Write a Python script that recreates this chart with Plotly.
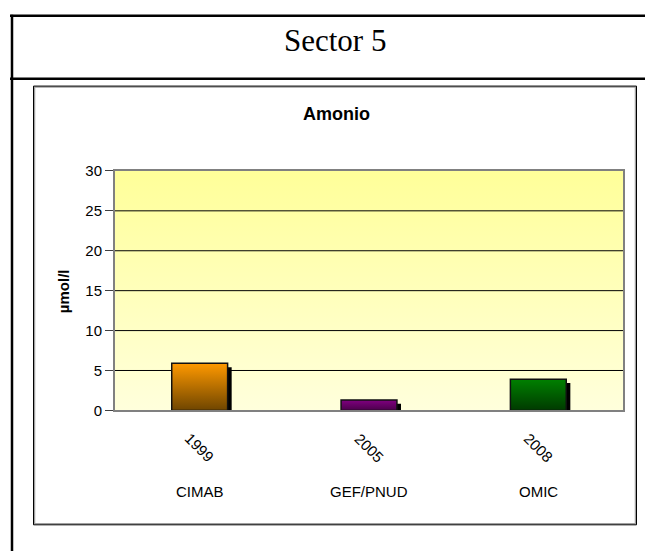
import plotly.graph_objects as go

# ---- data ----
years = ["1999", "2005", "2008"]
sources = ["CIMAB", "GEF/PNUD", "OMIC"]
values = [5.9, 1.3, 3.9]
y_ticks = [0, 5, 10, 15, 20, 25, 30]

W, H = 645, 559
def px(x): return x / W
def py(y): return 1 - y / H

bar_top = ["#FF9900", "#800080", "#008000"]
bar_bot = ["#6E4500", "#4A004A", "#003A00"]

BAR_W = 0.33
SH_DX = 0.024   # shadow offset (data units)
SH_DY = 0.48

FONT = "Liberation Sans, Arial"

fig = go.Figure()

# plot-area gradient background
fig.add_trace(go.Scatter(
    x=[-0.5, 2.5, 2.5, -0.5, -0.5], y=[0, 0, 30, 30, 0],
    mode="lines", line=dict(width=0), fill="toself",
    fillgradient=dict(type="vertical", colorscale=[[0, "#FFFFDC"], [1, "#FFFF99"]]),
    hoverinfo="skip", showlegend=False))

# gridlines
for t in y_ticks[1:-1]:
    fig.add_trace(go.Scatter(x=[-0.5, 2.5], y=[t, t], mode="lines",
                             line=dict(color="black", width=1),
                             hoverinfo="skip", showlegend=False))

# bars with shadows
for i, v in enumerate(values):
    x0, x1 = i - BAR_W / 2, i + BAR_W / 2
    fig.add_trace(go.Scatter(
        x=[x0 + SH_DX, x1 + SH_DX, x1 + SH_DX, x0 + SH_DX, x0 + SH_DX],
        y=[-SH_DY, -SH_DY, v - SH_DY, v - SH_DY, -SH_DY],
        mode="lines", line=dict(width=0), fill="toself", fillcolor="black",
        hoverinfo="skip", showlegend=False))
    fig.add_trace(go.Scatter(
        x=[x0, x1, x1, x0, x0], y=[0, 0, v, v, 0],
        mode="lines", line=dict(color="#111111", width=1.5), fill="toself",
        fillgradient=dict(type="vertical", colorscale=[[0, bar_bot[i]], [1, bar_top[i]]]),
        hoverinfo="skip", showlegend=False, name=sources[i]))

fig.update_xaxes(range=[-0.5, 2.5], domain=[px(115), px(623)], showgrid=False,
                 zeroline=False, showticklabels=False, showline=True, mirror=True,
                 linecolor="#808080", linewidth=2, fixedrange=True)
fig.update_yaxes(range=[0, 30], domain=[py(414), py(167)], tickvals=y_ticks,
                 showgrid=False, zeroline=False, showline=True, mirror=True,
                 linecolor="#808080", linewidth=2, ticks="outside", ticklen=8,
                 tickcolor="#404040", tickwidth=1,
                 tickfont=dict(family=FONT, size=15, color="black"),
                 fixedrange=True)

def ann(text, x, y, size, family=FONT, xref="paper", angle=0):
    return dict(text=text, x=x, y=y, xref=xref, yref="paper", xanchor="center",
                yanchor="middle", textangle=angle, showarrow=False,
                font=dict(family=family, size=size, color="black"))

annotations = [
    ann("Sector 5", px(335), py(33), 31, family="Liberation Serif"),
    ann("<b>Amonio</b>", px(336), py(108), 18),
    ann("<b>µmol/l</b>", px(63), py(291), 15, angle=-90),
]
for i, (yr, src) in enumerate(zip(years, sources)):
    annotations.append(ann(yr, i, py(452), 15, xref="x", angle=45))
    annotations.append(ann(src, i, py(498), 15, xref="x"))

shapes = [
    # outer table
    dict(type="line", x0=px(10), x1=px(645), y0=py(7), y1=py(7), xref="paper", yref="paper",
         line=dict(color="black", width=2.5)),
    dict(type="line", x0=px(12), x1=px(12), y0=py(6), y1=py(559), xref="paper", yref="paper",
         line=dict(color="black", width=2.5)),
    dict(type="line", x0=px(10), x1=px(645), y0=py(72), y1=py(72), xref="paper", yref="paper",
         line=dict(color="black", width=2.5)),
    # chart box
    dict(type="rect", x0=px(34.5), x1=px(635.5), y0=py(80.5), y1=py(531), xref="paper", yref="paper",
         line=dict(color="#A0A0A0", width=1.5)),
    dict(type="rect", x0=px(33.5), x1=px(636.5), y0=py(79.5), y1=py(532), xref="paper", yref="paper",
         line=dict(color="black", width=1)),
]

fig.update_layout(width=W, height=H, margin=dict(l=0, r=0, t=0, b=0),
                  paper_bgcolor="white", plot_bgcolor="rgba(0,0,0,0)",
                  showlegend=False, annotations=annotations, shapes=shapes)

fig.write_html("out.html", config={"displayModeBar": False, "staticPlot": True},
               post_script="document.body.style.margin='0px';document.body.style.overflow='hidden';")
